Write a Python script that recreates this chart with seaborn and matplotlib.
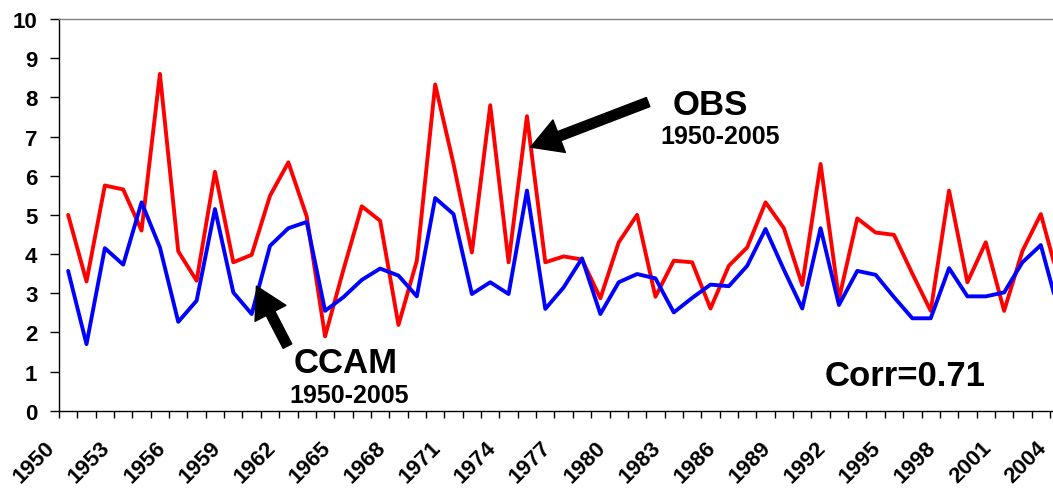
import matplotlib
matplotlib.use('Agg')
import matplotlib.pyplot as plt
import matplotlib.transforms as mtransforms
import seaborn as sns
import pandas as pd

# data, 1950-2004 (2005 falls outside the crop)
years = list(range(1950, 2005))
obs = [5.0, 3.3, 5.75, 5.65, 4.6, 8.6, 4.07, 3.32, 6.1, 3.79,
       3.98, 5.49, 6.34, 4.96, 1.9, 3.6, 5.22, 4.85, 2.19, 3.83,
       8.33, 6.3, 4.04, 7.8, 3.79, 7.52, 3.79, 3.94, 3.86, 2.87,
       4.3, 5.0, 2.91, 3.83, 3.79, 2.61, 3.7, 4.17, 5.32, 4.66,
       3.21, 6.3, 2.85, 4.91, 4.55, 4.49, 3.5, 2.55, 5.62, 3.28,
       4.3, 2.55, 4.08, 5.02, 3.3]
ccam = [3.57, 1.70, 4.15, 3.73, 5.32, 4.17, 2.27, 2.81, 5.15, 3.02,
        2.47, 4.21, 4.66, 4.82, 2.55, 2.9, 3.34, 3.63, 3.45, 2.92,
        5.43, 5.02, 2.98, 3.28, 2.98, 5.62, 2.6, 3.15, 3.89, 2.47,
        3.28, 3.49, 3.38, 2.51, 2.88, 3.22, 3.18, 3.7, 4.64, 3.6,
        2.61, 4.66, 2.7, 3.57, 3.47, 2.9, 2.36, 2.36, 3.64, 2.92,
        2.92, 3.02, 3.79, 4.23, 2.5]
label_years = list(range(1950, 2005, 3))

df = pd.DataFrame({'year': years, 'OBS': obs, 'CCAM': ccam})

sns.set_style('ticks')
plt.rcParams['font.family'] = ['Liberation Sans', 'DejaVu Sans']
plt.rcParams['font.weight'] = 'bold'
plt.rcParams['text.color'] = 'black'
plt.rcParams['xtick.color'] = 'black'
plt.rcParams['ytick.color'] = 'black'
plt.rcParams['axes.labelcolor'] = 'black'

fig = plt.figure(figsize=(10.53, 4.89), dpi=100)
# plot area runs past the right edge, like the cropped original
ax = fig.add_axes([0.056, 0.158, 0.976, 0.801])

sns.lineplot(data=df, x='year', y='OBS', color='#ff0000', linewidth=2.8, ax=ax)
sns.lineplot(data=df, x='year', y='CCAM', color='#0000ff', linewidth=2.8, ax=ax)

ax.set_xlim(1949.5, 2005.5)
ax.set_ylim(0, 10)
ax.set_xlabel('')
ax.set_ylabel('')

ax.set_yticks(range(0, 11))
ax.tick_params(axis='y', length=6.5, width=1, pad=9, labelsize=16, colors='black')

# category boundaries get the tick marks, labels every 3 years
ax.set_xticks([y - 0.5 for y in range(1950, 2007)], minor=True)
ax.set_xticks(label_years)
ax.set_xticklabels([str(y) for y in label_years], rotation=45, ha='right',
                   va='center', rotation_mode='anchor', fontsize=16, fontweight='bold')
ax.tick_params(axis='x', which='major', length=0, pad=24)
ax.tick_params(axis='x', which='minor', length=5, width=1, color='black')
offset = mtransforms.ScaledTranslation(-0.16, 0, fig.dpi_scale_trans)
for lab in ax.xaxis.get_majorticklabels():
    lab.set_transform(lab.get_transform() + offset)
for lab in ax.get_yticklabels():
    lab.set_fontweight('bold')

for s in ['left', 'bottom']:
    ax.spines[s].set_color('black')
    ax.spines[s].set_linewidth(1)
ax.spines['top'].set_color('#808080')
ax.spines['top'].set_linewidth(1)
ax.spines['right'].set_visible(False)

# annotations
arrow = dict(facecolor='black', edgecolor='black', width=7, headwidth=25, headlength=22)
ax.annotate('', xy=(1975.2, 6.73), xytext=(1981.6, 7.88), arrowprops=arrow)
ax.annotate('', xy=(1960.26, 3.18), xytext=(1961.95, 1.65), arrowprops=arrow)

ax.text(1985.0, 7.83, 'OBS', fontsize=25, fontweight='bold', ha='center', va='center')
ax.text(1985.5, 7.01, '1950-2005', fontsize=18, fontweight='bold', ha='center', va='center')
ax.text(1965.1, 1.22, 'CCAM', fontsize=25, fontweight='bold', ha='center', va='center')
ax.text(1965.3, 0.40, '1950-2005', fontsize=18, fontweight='bold', ha='center', va='center')
ax.text(1995.6, 0.89, 'Corr=0.71', fontsize=25, fontweight='bold', ha='center', va='center')

fig.savefig('out.png', dpi=100)
